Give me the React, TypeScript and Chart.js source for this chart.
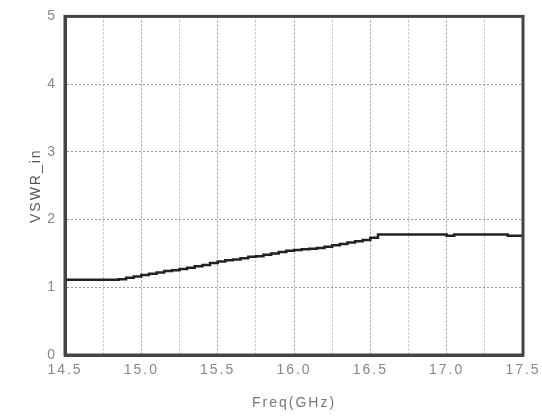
import React, { useEffect, useRef } from "react";
import { Chart, registerables } from "chart.js";

Chart.register(...registerables);

const freq = [14.5, 14.6, 14.7, 14.8, 14.85, 14.9, 14.95, 15.0, 15.05, 15.1, 15.15, 15.2, 15.25, 15.3, 15.35, 15.4, 15.45, 15.5, 15.55, 15.6, 15.65, 15.7, 15.75, 15.8, 15.85, 15.9, 15.95, 16.0, 16.05, 16.1, 16.15, 16.2, 16.25, 16.3, 16.35, 16.4, 16.45, 16.5, 16.55, 16.6, 16.7, 16.8, 16.9, 17.0, 17.05, 17.13, 17.2, 17.3, 17.4, 17.46, 17.5];
const vswr = [1.11, 1.11, 1.11, 1.11, 1.11, 1.12, 1.14, 1.16, 1.18, 1.2, 1.22, 1.24, 1.25, 1.27, 1.29, 1.31, 1.33, 1.36, 1.38, 1.4, 1.41, 1.43, 1.45, 1.46, 1.48, 1.5, 1.52, 1.54, 1.55, 1.56, 1.57, 1.58, 1.6, 1.62, 1.64, 1.66, 1.68, 1.7, 1.73, 1.78, 1.78, 1.78, 1.78, 1.78, 1.76, 1.78, 1.78, 1.78, 1.78, 1.76, 1.76];
const xMin = 14.5;
const xMax = 17.5;
const yMin = 0;
const yMax = 5;
const xTitle = "Freq(GHz)";
const yTitle = "VSWR_in";

const spacingPlugin = {
  id: "spacing",
  beforeInit(chart: any) {
    chart.ctx.letterSpacing = "2px";
  },
  beforeUpdate(chart: any) {
    chart.ctx.letterSpacing = "2px";
  },
  beforeDraw(chart: any) {
    chart.ctx.letterSpacing = "2px";
  },
};

const boxPlugin = {
  id: "box",
  afterDraw(chart: any) {
    const { ctx, chartArea } = chart;
    ctx.save();
    ctx.strokeStyle = "#444";
    ctx.lineWidth = 3;
    ctx.strokeRect(chartArea.left, chartArea.top, chartArea.right - chartArea.left, chartArea.bottom - chartArea.top);
    ctx.restore();
  },
};

export default function App() {
  const ref = useRef<HTMLCanvasElement>(null);
  useEffect(() => {
    const chart = new Chart(ref.current!, {
      type: "line",
      data: {
        datasets: [
          {
            data: freq.map((f, i) => ({ x: f, y: vswr[i] })),
            borderColor: "#222",
            borderWidth: 2.5,
            pointRadius: 0,
            stepped: "after",
            fill: false,
          },
        ],
      },
      options: {
        animation: false,
        responsive: true,
        maintainAspectRatio: false,
        layout: { padding: { left: 24, top: 13, right: 19, bottom: 0 } },
        plugins: { legend: { display: false }, tooltip: { enabled: false } },
        scales: {
          x: {
            type: "linear",
            min: xMin,
            max: xMax,
            afterFit: (s: any) => { s.height = 61; s.paddingRight = 0; s.paddingLeft = 0; },
            ticks: {
              stepSize: 0.25,
              autoSkip: false,
              maxRotation: 0,
              color: "#888",
              font: { family: "Liberation Sans, Arial, sans-serif", size: 14 },
              padding: 7,
              callback: (v: any) => (Math.abs((Number(v) * 2) % 1) < 1e-6 ? Number(v).toFixed(1) : ""),
            },
            grid: {
              drawTicks: false,
              color: (c: any) => (Math.abs((c.tick?.value * 2) % 1) < 1e-6 ? "#999" : "#bbb"),
              lineWidth: 1,
            },
            border: { display: true, color: "#444", width: 3, dash: [2, 2] },
            title: { display: true, text: xTitle, color: "#777", font: { family: "Liberation Sans, Arial, sans-serif", size: 14 }, padding: { top: 3 } },
          },
          y: {
            min: yMin,
            max: yMax,
            afterFit: (s: any) => { s.width = 41; },
            ticks: {
              stepSize: 1,
              color: "#888",
              font: { family: "Liberation Sans, Arial, sans-serif", size: 14 },
              padding: 8,
            },
            grid: { drawTicks: false, color: "#999", lineWidth: 1 },
            border: { display: true, color: "#444", width: 3, dash: [2, 2] },
            title: { display: true, text: yTitle, color: "#555", font: { family: "Liberation Sans, Arial, sans-serif", size: 14 }, padding: { bottom: 0 } },
          },
        },
      },
      plugins: [spacingPlugin, boxPlugin],
    });
    return () => chart.destroy();
  }, []);
  return (
    <div style={{ position: "fixed", left: 0, top: 0, width: 542, height: 416, background: "#fff" }}>
      <canvas ref={ref} />
    </div>
  );
}
